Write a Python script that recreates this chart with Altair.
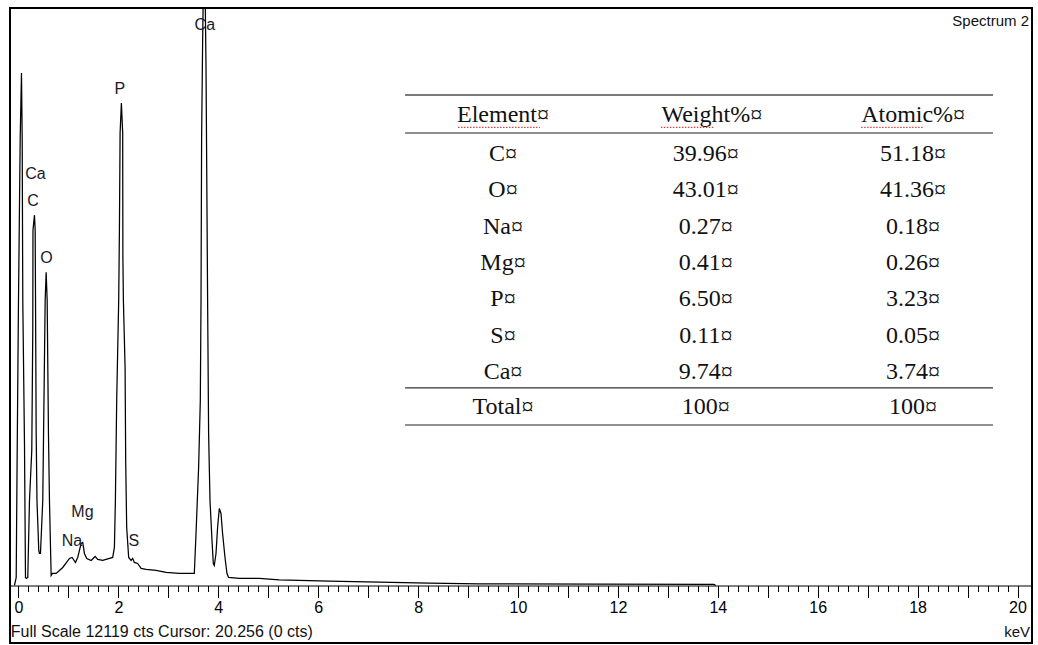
import altair as alt
import pandas as pd

# ---------------- data ----------------
# EDS spectrum: energy (keV) and counts
energy = [-0.08, -0.046, -0.026, 0.0, 0.034, 0.06, 0.074, 0.086, 0.12, 0.14,
          0.16, 0.186, 0.22, 0.266, 0.286, 0.29, 0.32, 0.334, 0.344, 0.354,
          0.37, 0.406, 0.42, 0.44, 0.486, 0.534, 0.554, 0.574, 0.6, 0.62,
          0.654, 0.68, 0.754, 0.886, 1.02, 1.074, 1.14, 1.186, 1.254, 1.286,
          1.32, 1.366, 1.454, 1.534, 1.586, 1.686, 1.886, 1.92, 1.94, 1.966,
          2.006, 2.02, 2.034, 2.06, 2.086, 2.09, 2.1, 2.134, 2.146, 2.166,
          2.206, 2.254, 2.286, 2.32, 2.386, 2.454, 2.554, 2.754, 2.954, 3.22,
          3.52, 3.554, 3.606, 3.64, 3.654, 3.666, 3.686, 3.72, 3.754, 3.77,
          3.786, 3.806, 3.834, 3.874, 3.9, 3.92, 3.954, 3.986, 4.02, 4.054,
          4.086, 4.134, 4.174, 4.206, 4.42, 4.82, 5.22, 6.22, 7.22, 8.22,
          9.22, 11.62, 13.92, 13.96]
counts = [0, 168, 2835, 5986, 9388, 10754, 9388, 5986, 2982, 168,
          147, 168, 1785, 2835, 5356, 7456, 7771, 7456, 5356, 3192,
          1785, 735, 672, 672, 1785, 5986, 6574, 5986, 3192, 1785,
          210, 252, 252, 378, 567, 588, 483, 588, 882, 903,
          672, 567, 525, 609, 546, 525, 588, 798, 1785, 3886,
          5986, 7393, 9493, 10123, 9493, 6889, 5986, 4579, 2625, 1218,
          588, 525, 567, 483, 462, 357, 336, 315, 273, 252,
          252, 1092, 2478, 3886, 5986, 9409, 11384, 14000, 10880, 8464,
          5986, 3192, 1785, 945, 462, 420, 672, 1218, 1617, 1512,
          1092, 588, 252, 168, 147, 147, 120, 90, 69, 48,
          36, 27, 21, 0]

# peak labels
peak_names = ["Ca", "P", "Ca", "C", "O", "Mg", "Na", "S"]
peak_kev = [3.73, 2.03, 0.34, 0.29, 0.56, 1.28, 1.07, 2.31]
peak_cts = [11762, 10419, 8636, 8069, 6883, 1542, 934, 934]

# composition table
tbl_header = ["Element", "Weight%", "Atomic%"]
tbl_elements = ["C", "O", "Na", "Mg", "P", "S", "Ca"]
tbl_weight = ["39.96", "43.01", "0.27", "0.41", "6.50", "0.11", "9.74"]
tbl_atomic = ["51.18", "41.36", "0.18", "0.26", "3.23", "0.05", "3.74"]
tbl_total = ["Total", "100", "100"]

full_scale = 12119
tick_values = [round(i * 0.2, 1) for i in range(101)]

# ---------------- scales / axes ----------------
xs = alt.Scale(domain=[-0.17, 20.29], nice=False, zero=False)
ys = alt.Scale(domain=[-1207, full_scale], nice=False, zero=False)
SANS = "Liberation Sans, Arial, sans-serif"
SERIF = "Liberation Serif, Times New Roman, serif"

x_axis = alt.Axis(values=tick_values, title=None, grid=False,
                  offset=-57.5, domainColor="black", domainWidth=1,
                  tickColor="black", tickWidth=1,
                  tickSize={"condition": {"test": "datum.value % 1 == 0", "value": 12}, "value": 6},
                  labelExpr="datum.value % 2 == 0 ? format(datum.value, 'd') : ''",
                  labelFont=SANS, labelFontSize=16, labelColor="black",
                  labelPadding=2, labelOverlap=False, labelFlush=False)


def X(field):
    return alt.X(field, scale=xs, axis=x_axis)


def Y(field):
    return alt.Y(field, scale=ys, axis=None)


spec = pd.DataFrame({"keV": energy, "cts": counts})
line = alt.Chart(spec).mark_line(color="black", strokeWidth=1.25, clip=True).encode(
    x=X("keV:Q"), y=Y("cts:Q"))

peaks = pd.DataFrame({"t": peak_names, "keV": peak_kev, "cts": peak_cts})
peak_text = alt.Chart(peaks).mark_text(font=SANS, fontSize=16, color="#1a1a2a",
                                       align="center", baseline="middle").encode(
    x=X("keV:Q"), y=Y("cts:Q"), text="t:N")

# annotations (frame texts)
ann_left = pd.DataFrame({"t": [f"Full Scale {full_scale} cts Cursor: 20.256  (0 cts)"],
                         "keV": [-0.155], "cts": [-976]})
ann_right = pd.DataFrame({"t": ["keV", "Spectrum 2"],
                          "keV": [20.25, 20.23], "cts": [-976, 11846]})
txt_left = alt.Chart(ann_left).mark_text(font=SANS, fontSize=16, color="#111",
                                         align="left", baseline="middle").encode(
    x=X("keV:Q"), y=Y("cts:Q"), text="t:N")
txt_right = alt.Chart(ann_right).mark_text(font=SANS, fontSize=15, color="#111",
                                           align="right", baseline="middle").encode(
    x=X("keV:Q"), y=Y("cts:Q"), text="t:N")

# ---------------- table ----------------
col_x = [9.70, 13.76, 17.91]
head_x = [9.70, 13.88, 17.91]
head_y = 9873
row_y0 = 9055
row_step = 763
total_y = 3746
rows = []
for j, h in enumerate(tbl_header):
    rows.append({"t": h + "¤", "keV": head_x[j], "cts": head_y})
for i in range(len(tbl_elements)):
    for j, v in enumerate([tbl_elements[i], tbl_weight[i], tbl_atomic[i]]):
        rows.append({"t": v + "¤", "keV": col_x[j], "cts": row_y0 - i * row_step})
for j, v in enumerate(tbl_total):
    rows.append({"t": v + "¤", "keV": col_x[j], "cts": total_y})
tdf = pd.DataFrame(rows)
table_text = alt.Chart(tdf).mark_text(font=SERIF, fontSize=24, color="#111",
                                      align="center", baseline="middle").encode(
    x=X("keV:Q"), y=Y("cts:Q"), text="t:N")

tx0, tx1 = 7.74, 19.51
top_line = pd.DataFrame({"a": [tx0], "b": [tx1], "cts": [10293]})
mid_lines = pd.DataFrame({"a": [tx0, tx0], "b": [tx1, tx1], "cts": [9496, 3368]})
tot_line = pd.DataFrame({"a": [tx0], "b": [tx1], "cts": [4145]})


def hrule(df, color, width, dash=None):
    kw = {"color": color, "strokeWidth": width}
    if dash:
        kw["strokeDash"] = dash
    return alt.Chart(df).mark_rule(**kw).encode(x=X("a:Q"), x2="b:Q", y=Y("cts:Q"))


under = pd.DataFrame({"a": [8.80, 12.86, 16.87], "b": [10.44, 13.94, 18.11],
                      "cts": [9615, 9615, 9615]})

chart = alt.layer(
    line,
    hrule(top_line, "#7a7a7a", 2),
    hrule(mid_lines, "#6a6a6a", 1.5),
    hrule(tot_line, "#333333", 1.2),
    table_text,
    hrule(under, "#e0443e", 1.2, [1.5, 1.5]),
    peak_text,
    txt_left,
    txt_right,
).properties(
    width=1022, height=635,
    padding={"left": 10, "top": 8, "right": 6, "bottom": 2},
    autosize=alt.AutoSizeParams(type="none"),
    background="white",
).configure_view(stroke="black", strokeWidth=2)

chart.save("out.html", embed_options={"renderer": "svg", "actions": False})
